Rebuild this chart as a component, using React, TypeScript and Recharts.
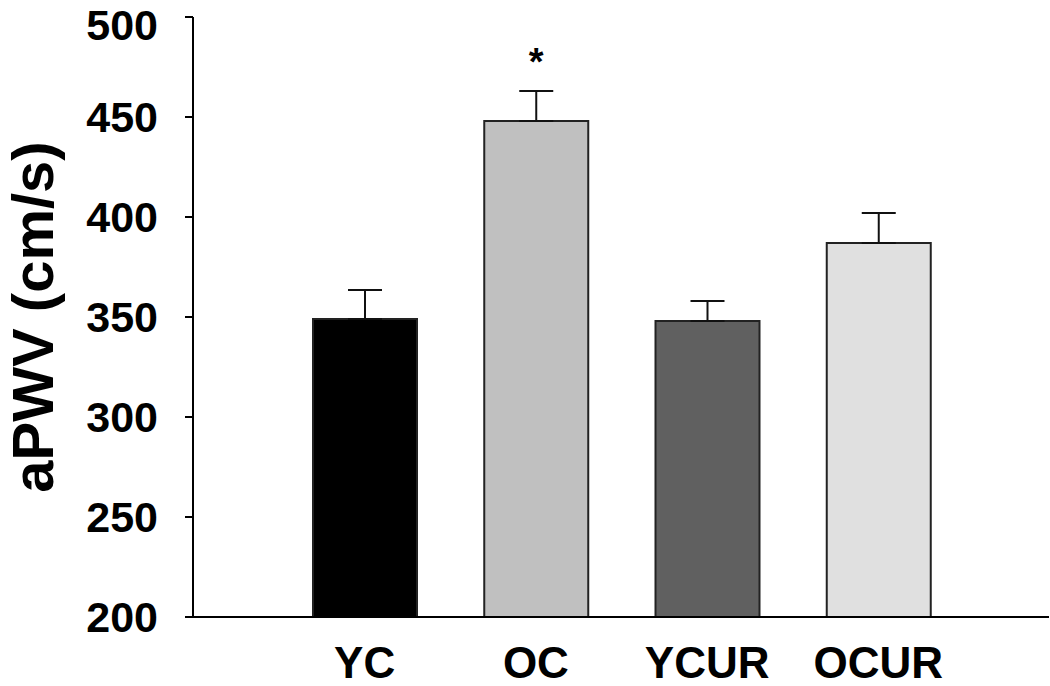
import { BarChart, Bar, XAxis, YAxis, Cell, ErrorBar, LabelList } from "recharts";

const groups = ["YC", "OC", "YCUR", "OCUR"];
const means = [349, 448, 348, 387];
const sems = [14.5, 15, 10, 15];
const marks = ["", "*", "", ""];
const yTicks = [200, 250, 300, 350, 400, 450, 500];
const fills = ["#000000", "#c0c0c0", "#606060", "#e0e0e0"];

const data = groups.map((g, i) => ({
  group: g,
  aPWV: means[i],
  err: [0, sems[i]],
  mark: marks[i],
}));

const font = "'Liberation Sans', Arial, sans-serif";

export default function App() {
  return (
    <div style={{ position: "absolute", left: 0, top: 0 }}>
      <BarChart
        width={1050}
        height={686}
        data={data}
        margin={{ top: 17, right: 1, bottom: 0, left: 0 }}
      >
        <XAxis
          dataKey="group"
          height={69}
          padding={{ left: 86, right: 85 }}
          stroke="#000"
          strokeWidth={2}
          tickLine={false}
          tick={{ fill: "#000", fontSize: 44, fontWeight: 700, fontFamily: font }}
          tickMargin={24}
        />
        <YAxis
          width={193}
          domain={[200, 500]}
          ticks={yTicks}
          allowDataOverflow
          stroke="#000"
          strokeWidth={2}
          tickSize={8}
          tickMargin={27}
          tick={{ fill: "#000", fontSize: 43, fontWeight: 700, fontFamily: font }}
          label={{
            value: "aPWV (cm/s)",
            angle: -90,
            position: "insideLeft",
            dx: 27,
            style: {
              textAnchor: "middle",
              fill: "#000",
              fontSize: 58,
              fontWeight: 700,
              fontFamily: font,
            },
          }}
        />
        <Bar
          dataKey="aPWV"
          barSize={104}
          stroke="#222"
          strokeWidth={2}
          isAnimationActive={false}
        >
          {data.map((d, i) => (
            <Cell key={d.group} fill={fills[i]} />
          ))}
          <ErrorBar dataKey="err" width={17} stroke="#111" strokeWidth={2} direction="y" />
          <LabelList
            dataKey="mark"
            position="top"
            offset={46}
            style={{ fill: "#000", fontSize: 38, fontWeight: 700, fontFamily: font }}
          />
        </Bar>
      </BarChart>
    </div>
  );
}
